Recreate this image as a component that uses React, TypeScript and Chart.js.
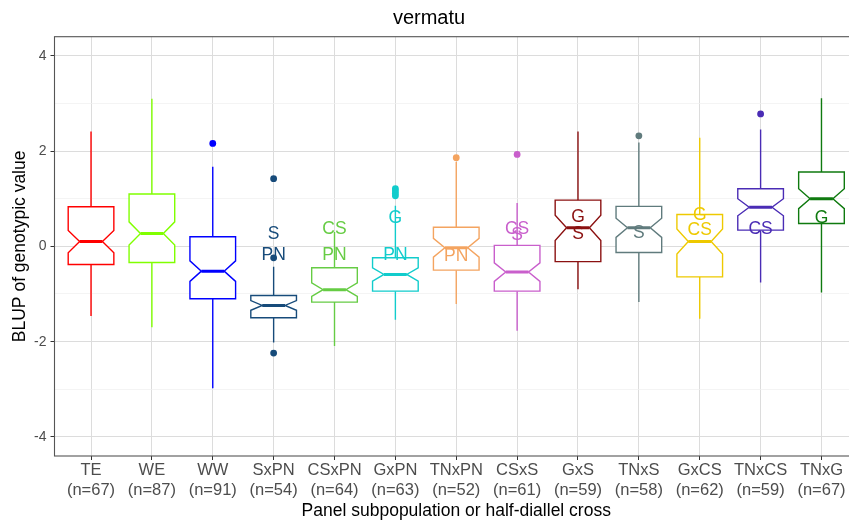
import React, { useEffect, useRef } from 'react';
import { Chart, registerables } from 'chart.js';

Chart.register(...registerables);

// Groups on the x axis and their sizes
const categories = ['TE', 'WE', 'WW', 'SxPN', 'CSxPN', 'GxPN', 'TNxPN', 'CSxS', 'GxS', 'TNxS', 'GxCS', 'TNxCS', 'TNxG'];
const counts = [67, 87, 91, 54, 64, 63, 52, 61, 59, 58, 62, 59, 67];
const colors = ['#FF0000', '#80FF00', '#0000FF', '#174B7A', '#66CC44', '#11CCCC', '#F4A460', '#C95FCC', '#8B1111', '#607B7D', '#EEC900', '#4A2CB5', '#0F7A0F'];

// Five-number summaries of the BLUPs per group
const whiskerLow = [-1.46, -1.70, -2.98, -2.02, -2.09, -1.54, -1.21, -1.77, -0.90, -1.17, -1.52, -0.76, -0.97];
const lowerQuartile = [-0.38, -0.34, -1.10, -1.50, -1.17, -0.94, -0.50, -0.94, -0.32, -0.13, -0.64, 0.34, 0.48];
const medians = [0.10, 0.27, -0.52, -1.24, -0.91, -0.59, -0.03, -0.54, 0.39, 0.39, 0.10, 0.82, 1.00];
const upperQuartile = [0.83, 1.10, 0.20, -1.03, -0.45, -0.24, 0.40, 0.02, 0.97, 0.84, 0.67, 1.21, 1.56];
const whiskerHigh = [2.41, 3.10, 1.67, -0.43, 0.30, 0.85, 1.77, 0.91, 2.41, 2.18, 2.28, 2.45, 3.11];
const outliers: number[][] = [[], [], [2.16], [1.42, -0.24, -2.24], [], [1.21, 1.16, 1.11, 1.06], [1.86], [1.93], [], [2.32], [], [2.78], []];

// Parent-panel letters written over the half-diallel boxes
const letterCategory = [3, 3, 4, 4, 5, 5, 6, 7, 7, 8, 8, 9, 10, 10, 11, 12];
const letterText = ['S', 'PN', 'CS', 'PN', 'G', 'PN', 'PN', 'CS', 'S', 'G', 'S', 'S', 'G', 'CS', 'CS', 'G'];
const letterValue = [0.25, -0.19, 0.36, -0.18, 0.60, -0.18, -0.20, 0.36, 0.24, 0.61, 0.25, 0.27, 0.65, 0.34, 0.36, 0.60];

const yTicks = [-4, -3, -2, -1, 0, 1, 2, 3, 4];

const FONT = '"Liberation Sans", Arial, Helvetica, sans-serif';
const BOX_WIDTH = 0.75;
const NOTCH_WIDTH = 0.5;

const boxPlotPlugin = {
  id: 'notchedBoxes',
  beforeDatasetsDraw(chart: any) {
    const { ctx, chartArea, scales } = chart;
    const x = scales.x;
    const y = scales.y;
    const py = (v: number) => y.getPixelForValue(v);
    ctx.save();
    ctx.beginPath();
    ctx.rect(chartArea.left, chartArea.top, chartArea.right - chartArea.left, chartArea.bottom - chartArea.top);
    ctx.clip();
    categories.forEach((_, i) => {
      const cx = x.getPixelForValue(i);
      const half = (x.getPixelForValue(i + BOX_WIDTH / 2) - x.getPixelForValue(i - BOX_WIDTH / 2)) / 2;
      const inner = half * NOTCH_WIDTH;
      const q1 = lowerQuartile[i];
      const q3 = upperQuartile[i];
      const med = medians[i];
      const notch = (1.58 * (q3 - q1)) / Math.sqrt(counts[i]);
      ctx.strokeStyle = colors[i];
      ctx.lineWidth = 1.4;
      ctx.lineJoin = 'miter';
      // whiskers
      ctx.beginPath();
      ctx.moveTo(cx, py(q3));
      ctx.lineTo(cx, py(whiskerHigh[i]));
      ctx.moveTo(cx, py(q1));
      ctx.lineTo(cx, py(whiskerLow[i]));
      ctx.stroke();
      // notched box
      ctx.beginPath();
      ctx.moveTo(cx - half, py(q3));
      ctx.lineTo(cx + half, py(q3));
      ctx.lineTo(cx + half, py(med + notch));
      ctx.lineTo(cx + inner, py(med));
      ctx.lineTo(cx + half, py(med - notch));
      ctx.lineTo(cx + half, py(q1));
      ctx.lineTo(cx - half, py(q1));
      ctx.lineTo(cx - half, py(med - notch));
      ctx.lineTo(cx - inner, py(med));
      ctx.lineTo(cx - half, py(med + notch));
      ctx.closePath();
      ctx.fillStyle = '#FFFFFF';
      ctx.fill();
      ctx.stroke();
      // median
      ctx.lineWidth = 3;
      ctx.beginPath();
      ctx.moveTo(cx - inner, py(med));
      ctx.lineTo(cx + inner, py(med));
      ctx.stroke();
    });
    ctx.restore();
  },
  afterDatasetsDraw(chart: any) {
    const { ctx, chartArea, scales } = chart;
    const x = scales.x;
    const y = scales.y;
    ctx.save();
    ctx.font = `17.5px ${FONT}`;
    ctx.textAlign = 'center';
    ctx.textBaseline = 'middle';
    letterText.forEach((t, k) => {
      const i = letterCategory[k];
      ctx.fillStyle = colors[i];
      ctx.fillText(t, x.getPixelForValue(i), y.getPixelForValue(letterValue[k]));
    });
    // panel border
    ctx.strokeStyle = '#555555';
    ctx.lineWidth = 1.1;
    ctx.strokeRect(chartArea.left, chartArea.top, chartArea.right - chartArea.left, chartArea.bottom - chartArea.top);
    ctx.restore();
  },
};

export default function App() {
  const canvasRef = useRef<HTMLCanvasElement | null>(null);

  useEffect(() => {
    const canvas = canvasRef.current;
    if (!canvas) return;
    const points: { x: number; y: number }[] = [];
    const pointColors: string[] = [];
    outliers.forEach((list, i) =>
      list.forEach((v) => {
        points.push({ x: i, y: v });
        pointColors.push(colors[i]);
      })
    );

    const chart = new Chart(canvas, {
      type: 'scatter',
      data: {
        datasets: [
          {
            data: points,
            pointBackgroundColor: pointColors,
            pointBorderWidth: 0,
            pointRadius: 3.4,
            pointHoverRadius: 3.4,
          },
        ],
      },
      options: {
        responsive: false,
        animation: false,
        devicePixelRatio: 1,
        layout: { padding: { left: 0, right: 54, top: 0, bottom: 0 } },
        plugins: {
          legend: { display: false },
          tooltip: { enabled: false },
          title: {
            display: true,
            text: 'vermatu',
            color: '#000000',
            font: { family: FONT, size: 20, weight: 'normal' },
            padding: { top: 6.3, bottom: 6.4 },
          },
        },
        scales: {
          x: {
            type: 'linear',
            min: -0.6,
            max: 12.6,
            afterBuildTicks: (scale: any) => {
              scale.ticks = categories.map((_, i) => ({ value: i }));
            },
            afterFit: (scale: any) => {
              scale.height = 71;
            },
            ticks: {
              autoSkip: false,
              maxRotation: 0,
              padding: 1,
              color: '#4D4D4D',
              font: { family: FONT, size: 16.5 },
              callback: (v: any) => [categories[v], `(n=${counts[v]})`],
            },
            grid: { color: '#DCDCDC', lineWidth: 1, tickColor: '#333333', tickLength: 4 },
            border: { display: false },
            title: {
              display: true,
              text: 'Panel subpopulation or half-diallel cross',
              color: '#000000',
              font: { family: FONT, size: 17.5 },
              padding: { top: 0, bottom: 5.5 },
            },
          },
          y: {
            min: -4.4,
            max: 4.4,
            afterBuildTicks: (scale: any) => {
              scale.ticks = yTicks.map((v) => ({ value: v }));
            },
            afterFit: (scale: any) => {
              scale.width = 54.5;
            },
            ticks: {
              padding: 4,
              color: '#4D4D4D',
              font: { family: FONT, size: 14 },
              callback: (v: any) => (Math.abs(v) % 2 === 1 ? '' : String(v)),
            },
            grid: {
              color: (c: any) => (Math.abs(c.tick.value) % 2 === 1 ? '#EFEFEF' : '#DCDCDC'),
              lineWidth: (c: any) => (Math.abs(c.tick.value) % 2 === 1 ? 0.7 : 1),
              tickColor: (c: any) => (Math.abs(c.tick.value) % 2 === 1 ? 'rgba(0,0,0,0)' : '#333333'),
              tickLength: 4,
            },
            border: { display: false },
            title: {
              display: true,
              text: 'BLUP of genotypic value',
              color: '#000000',
              font: { family: FONT, size: 17.5 },
              padding: { top: 9.5, bottom: 0 },
            },
          },
        },
      } as any,
      plugins: [boxPlotPlugin],
    });

    return () => chart.destroy();
  }, []);

  return (
    <div
      style={{
        position: 'absolute',
        left: 0,
        top: 0,
        width: 849,
        height: 527,
        overflow: 'hidden',
        background: '#FFFFFF',
      }}
    >
      <canvas ref={canvasRef} width={912} height={527} style={{ width: 912, height: 527, display: 'block' }} />
    </div>
  );
}
